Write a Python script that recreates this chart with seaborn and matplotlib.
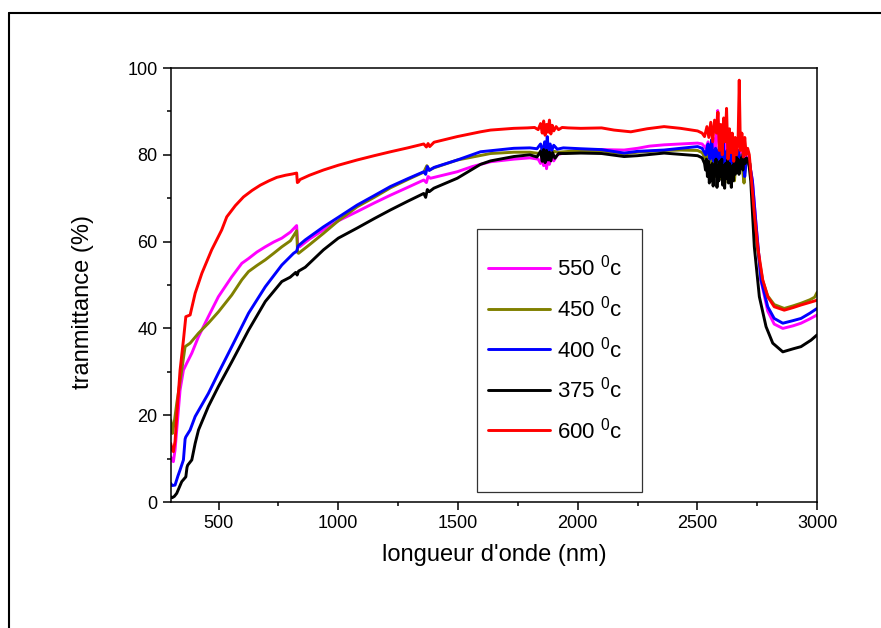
import pandas as pd
import matplotlib
matplotlib.use("Agg")
import matplotlib.pyplot as plt
from matplotlib.lines import Line2D
from matplotlib.patches import Rectangle
from matplotlib.ticker import MultipleLocator
import seaborn as sns

# -----------------------------
# Data (wavelength in nm, transmittance in %)
# -----------------------------
wl_550 = [300, 306, 311, 318, 325, 339, 353, 367, 388, 416, 457, 499, 555, 597, 625, 660, 695, 730, 764,
          800, 826, 830, 838, 880, 938, 1000, 1078, 1150, 1218, 1290, 1357, 1368, 1375, 1385, 1400, 1497,
          1560, 1636, 1733, 1800, 1835, 1845, 1852, 1858, 1864, 1870, 1876, 1882, 1890, 1900, 1915, 1940,
          2013, 2100, 2194, 2250, 2300, 2361, 2430, 2501, 2520, 2535, 2545, 2555, 2565, 2575, 2580, 2585,
          2592, 2600, 2605, 2610, 2615, 2620, 2625, 2630, 2635, 2640, 2645, 2650, 2655, 2660, 2665, 2670,
          2675, 2680, 2685, 2690, 2695, 2700, 2715, 2730, 2745, 2766, 2794, 2821, 2857, 2900, 2933, 2970,
          3000]
tr_550 = [10.4, 9.6, 9.3, 12.0, 16.6, 25.8, 30.4, 32.0, 34.3, 38.1, 42.7, 47.3, 51.9, 55.0, 56.1, 57.6, 58.8, 59.9, 60.8,
          62.2, 63.7, 59.5, 58.8, 60.6, 62.7, 64.8, 66.9, 68.9, 70.7, 72.5, 74.2, 73.6, 75.0, 74.6, 74.8, 76.1,
          77.3, 78.4, 79.0, 79.3, 79.0, 78.0, 79.8, 77.5, 80.0, 76.8, 79.5, 77.8, 79.8, 78.6, 80.0, 80.4,
          81.1, 81.2, 81.1, 81.5, 82.0, 82.3, 82.5, 82.7, 82.5, 81.5, 83.0, 80.0, 84.0, 80.5, 86.0, 90.2,
          79.5, 85.0, 79.0, 78.0, 82.5, 83.0, 77.5, 78.5, 81.0, 82.0, 78.0, 77.0, 80.5, 81.0, 77.0, 78.0,
          81.0, 80.5, 77.0, 77.5, 79.5, 80.0, 79.0, 74.0, 64.0, 51.0, 44.0, 41.0, 40.0, 40.6, 41.2, 42.2,
          43.1]

wl_450 = [300, 304, 307, 315, 325, 346, 360, 381, 416, 457, 499, 555, 597, 625, 660, 695, 730, 764, 800,
          826, 830, 834, 880, 938, 1000, 1078, 1150, 1218, 1290, 1357, 1370, 1380, 1400, 1497, 1636, 1733,
          1800, 1840, 1850, 1858, 1866, 1874, 1882, 1890, 1900, 1920, 2013, 2100, 2194, 2250, 2361, 2430,
          2501, 2520, 2535, 2540, 2545, 2550, 2555, 2560, 2565, 2570, 2575, 2580, 2585, 2590, 2595, 2600,
          2605, 2610, 2615, 2620, 2625, 2630, 2635, 2640, 2645, 2650, 2655, 2660, 2665, 2670, 2675, 2680,
          2685, 2690, 2695, 2700, 2705, 2720, 2738, 2752, 2773, 2794, 2821, 2863, 2900, 2933, 2970, 2990,
          3000]
tr_450 = [18.9, 17.5, 15.8, 18.5, 22.7, 30.4, 35.8, 36.6, 38.9, 41.2, 43.8, 47.7, 51.2, 53.1, 54.5, 55.8, 57.3, 58.8, 60.2,
          62.5, 57.5, 57.3, 59.3, 61.9, 64.8, 68.0, 70.2, 72.4, 74.3, 76.0, 77.5, 76.5, 77.0, 78.8, 80.3, 80.6,
          80.6, 80.3, 81.3, 79.2, 81.5, 79.0, 81.2, 79.6, 80.8, 80.6, 81.0, 80.9, 80.2, 80.6, 81.0, 81.1,
          81.0, 80.5, 79.0, 80.5, 81.5, 78.0, 76.5, 79.5, 80.0, 77.0, 75.0, 79.0, 81.0, 76.0, 74.5, 78.5,
          80.0, 75.5, 73.5, 78.0, 79.5, 76.5, 75.0, 79.0, 80.0, 75.5, 74.0, 77.5, 79.0, 78.0, 76.0, 79.5,
          80.0, 76.0, 73.5, 77.0, 78.0, 78.0, 65.0, 58.0, 51.0, 47.5, 45.5, 44.6, 45.2, 45.8, 46.6, 47.2,
          48.3]

wl_400 = [300, 306, 318, 330, 339, 353, 360, 363, 381, 402, 457, 499, 555, 625, 695, 764, 813, 826, 832,
          862, 938, 1000, 1078, 1150, 1218, 1290, 1357, 1365, 1372, 1380, 1400, 1497, 1594, 1733, 1800,
          1830, 1845, 1855, 1862, 1868, 1873, 1878, 1885, 1892, 1900, 1915, 1940, 2013, 2100, 2194, 2250,
          2361, 2430, 2501, 2520, 2535, 2540, 2545, 2549, 2553, 2557, 2560, 2564, 2568, 2572, 2576, 2580,
          2584, 2588, 2592, 2596, 2600, 2604, 2608, 2612, 2616, 2620, 2624, 2628, 2632, 2636, 2640, 2644,
          2648, 2652, 2656, 2660, 2664, 2668, 2672, 2676, 2680, 2685, 2690, 2694, 2698, 2702, 2706, 2715,
          2730, 2745, 2766, 2794, 2821, 2857, 2900, 2933, 2970, 3000]
tr_400 = [4.3, 3.8, 3.9, 6.0, 7.4, 9.7, 14.5, 15.0, 16.6, 19.7, 25.0, 29.7, 35.8, 43.5, 49.6, 54.6, 57.3, 57.8, 59.0,
          60.4, 63.4, 65.6, 68.4, 70.6, 72.7, 74.5, 76.1, 75.5, 77.3, 76.4, 77.1, 78.8, 80.7, 81.5, 81.6,
          81.4, 82.5, 80.5, 83.0, 81.0, 84.2, 80.8, 82.5, 81.0, 82.2, 81.3, 81.6, 81.4, 81.2, 80.4, 80.8,
          81.1, 81.5, 81.9, 81.5, 80.0, 81.5, 82.5, 80.0, 79.0, 81.5, 83.5, 80.0, 78.5, 80.5, 81.5, 79.0,
          77.0, 80.5, 82.0, 79.5, 78.0, 81.0, 83.0, 78.5, 76.5, 79.5, 81.0, 79.0, 77.5, 80.5, 82.0, 78.5,
          76.0, 78.5, 80.5, 79.0, 78.0, 80.0, 81.0, 78.5, 77.0, 79.5, 80.0, 77.0, 75.0, 77.5, 79.0, 79.0,
          74.0, 64.0, 51.2, 45.0, 42.3, 41.2, 41.8, 42.3, 43.5, 44.6]

wl_375 = [300, 306, 315, 325, 346, 363, 368, 371, 388, 402, 416, 457, 499, 555, 625, 695, 764, 799, 822,
          828, 834, 862, 938, 1000, 1078, 1150, 1218, 1290, 1357, 1365, 1372, 1380, 1399, 1497, 1594, 1636,
          1733, 1800, 1830, 1845, 1852, 1858, 1864, 1870, 1876, 1882, 1888, 1895, 1905, 1920, 1950, 2013,
          2100, 2194, 2250, 2361, 2431, 2501, 2520, 2530, 2534, 2538, 2542, 2546, 2550, 2554, 2558, 2562,
          2566, 2570, 2574, 2578, 2582, 2586, 2590, 2594, 2598, 2602, 2606, 2610, 2614, 2618, 2622, 2626,
          2630, 2634, 2638, 2642, 2646, 2650, 2654, 2658, 2662, 2666, 2670, 2674, 2678, 2682, 2686, 2690,
          2695, 2700, 2705, 2710, 2715, 2723, 2738, 2759, 2787, 2815, 2857, 2900, 2933, 2975, 3000]
tr_375 = [1.2, 1.0, 1.3, 2.0, 4.7, 5.8, 8.0, 8.5, 9.7, 13.5, 16.6, 22.0, 26.6, 32.3, 39.6, 46.2, 50.8, 51.8, 52.9,
          52.3, 53.2, 54.1, 58.1, 60.8, 63.1, 65.3, 67.3, 69.3, 71.1, 70.2, 72.0, 71.5, 72.3, 74.6, 77.8, 78.6,
          79.6, 80.0, 79.5, 80.8, 78.5, 81.2, 78.2, 81.0, 78.8, 80.6, 78.6, 80.5, 79.2, 80.3, 80.3, 80.4,
          80.3, 79.6, 79.8, 80.4, 80.1, 79.8, 79.3, 78.0, 76.5, 79.0, 75.0, 78.5, 73.5, 77.5, 74.0, 78.0,
          72.8, 77.0, 75.5, 79.0, 72.5, 77.5, 74.0, 78.5, 75.0, 79.0, 73.0, 77.5, 72.3, 78.0, 74.5, 79.0,
          73.5, 78.0, 75.0, 72.5, 77.5, 74.0, 79.0, 75.5, 79.5, 76.0, 79.0, 75.5, 78.5, 77.0, 79.5, 76.5,
          79.0, 78.0, 79.3, 78.5, 78.0, 74.0, 58.8, 47.3, 40.4, 36.6, 34.6, 35.3, 35.8, 37.3, 38.5]

wl_600 = [300, 306, 311, 318, 325, 339, 353, 363, 381, 402, 430, 471, 513, 534, 570, 604, 640, 674, 710,
          743, 780, 810, 826, 829, 834, 840, 880, 938, 1000, 1078, 1150, 1218, 1290, 1357, 1368, 1375, 1382,
          1400, 1497, 1594, 1636, 1733, 1790, 1820, 1835, 1845, 1852, 1858, 1864, 1870, 1876, 1882, 1888,
          1894, 1900, 1910, 1920, 1935, 1960, 2013, 2100, 2152, 2222, 2290, 2361, 2430, 2501, 2520, 2530,
          2540, 2548, 2556, 2564, 2572, 2580, 2586, 2592, 2598, 2604, 2610, 2616, 2622, 2628, 2634, 2640,
          2646, 2652, 2658, 2664, 2670, 2675, 2680, 2686, 2692, 2698, 2704, 2710, 2717, 2738, 2752, 2773,
          2794, 2821, 2863, 2900, 2933, 2970, 3000]
tr_600 = [13.5, 12.0, 11.6, 14.0, 19.7, 30.4, 37.3, 42.7, 43.1, 48.1, 52.7, 58.1, 62.7, 65.7, 68.3, 70.3, 71.8, 73.0, 74.0,
          74.8, 75.3, 75.6, 75.8, 73.6, 73.8, 74.3, 75.3, 76.5, 77.6, 78.8, 79.8, 80.7, 81.6, 82.5, 81.8, 82.6, 81.9,
          82.9, 84.2, 85.3, 85.7, 86.1, 86.2, 86.3, 85.8, 87.2, 85.0, 87.8, 84.5, 87.0, 85.2, 88.0, 84.8,
          86.8, 85.5, 86.5, 85.8, 86.3, 86.2, 86.1, 86.2, 85.7, 85.3, 86.0, 86.5, 86.1, 85.5, 85.0, 84.2,
          86.5, 84.0, 87.5, 83.0, 88.0, 85.0, 89.8, 81.0, 87.0, 80.0, 88.5, 83.0, 90.7, 79.0, 86.0, 80.5,
          85.0, 78.5, 84.0, 80.0, 83.0, 97.2, 81.0, 85.0, 79.5, 84.0, 80.0, 81.5, 80.0, 66.5, 58.8, 51.2,
          47.3, 45.0, 44.2, 44.8, 45.4, 46.0, 46.5]

labels = ["550 $^0$c", "450 $^0$c", "400 $^0$c", "375 $^0$c", "600 $^0$c"]
colors = ["#FF00FF", "#808000", "#0000FF", "#000000", "#FF0000"]

series = [(wl_550, tr_550), (wl_450, tr_450), (wl_400, tr_400), (wl_375, tr_375), (wl_600, tr_600)]
frames = []
for lab, (xs, ys) in zip(labels, series):
    frames.append(pd.DataFrame({"wl": xs, "T": ys, "temp": lab}))
data = pd.concat(frames, ignore_index=True)

# -----------------------------
# Style
# -----------------------------
sns.set_theme(style="ticks")
plt.rcParams["font.family"] = ["Liberation Sans", "DejaVu Sans"]
plt.rcParams["mathtext.fontset"] = "custom"
plt.rcParams["mathtext.rm"] = "Liberation Sans"
plt.rcParams["mathtext.default"] = "regular"
for key in ["text.color", "axes.labelcolor", "xtick.color", "ytick.color", "axes.edgecolor"]:
    plt.rcParams[key] = "black"

fig = plt.figure(figsize=(8.81, 6.28), dpi=100)
fig.patch.set_facecolor("white")
ax = fig.add_axes([0.1938, 0.2006, 0.7336, 0.6911])

sns.lineplot(data=data, x="wl", y="T", hue="temp", hue_order=labels,
             palette=colors, estimator=None, sort=False, lw=2.1, ax=ax)

ax.set_xlim(300, 3000)
ax.set_ylim(0, 100)
ax.xaxis.set_major_locator(MultipleLocator(500))
ax.xaxis.set_minor_locator(MultipleLocator(250))
ax.yaxis.set_major_locator(MultipleLocator(20))
ax.yaxis.set_minor_locator(MultipleLocator(10))
ax.tick_params(which="major", direction="out", length=6, width=1.1, labelsize=13, pad=3.5,
               color="black", labelcolor="black")
ax.tick_params(which="minor", direction="out", length=3, width=1.1, color="black")
for s in ax.spines.values():
    s.set_color("black")
    s.set_linewidth(1.1)

ax.set_xlabel("longueur d'onde (nm)", fontsize=17, color="black")
ax.set_ylabel("tranmittance (%)", fontsize=17, color="black")
ax.xaxis.set_label_coords(0.5, -0.097)
ax.yaxis.set_label_coords(-0.119, 0.462)

# legend entries + separate box
handles, labs = ax.get_legend_handles_labels()
leg = ax.legend(handles, labs, loc="upper left", bbox_to_anchor=(488 / 881, 1 - 255 / 628),
                bbox_transform=fig.transFigure, frameon=False, fontsize=16, handlelength=2.8,
                handletextpad=0.3, labelspacing=0.66, borderpad=0, borderaxespad=0)
for t in leg.get_texts():
    t.set_color("black")
fig.add_artist(Rectangle((477 / 881, 1 - 492 / 628), 165 / 881, 263 / 628, transform=fig.transFigure,
                         facecolor="none", edgecolor="#333333", lw=0.9))

# outer frame of the original figure
fig.add_artist(Line2D([8.5 / 881, 8.5 / 881], [0, 1 - 12.5 / 628], transform=fig.transFigure, color="black", lw=1.5))
fig.add_artist(Line2D([8.5 / 881, 1], [1 - 12.5 / 628, 1 - 12.5 / 628], transform=fig.transFigure, color="black", lw=1.5))

fig.savefig("out.png", dpi=100, facecolor="white")
